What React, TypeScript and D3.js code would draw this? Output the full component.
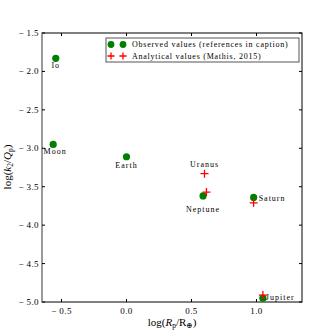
import React, { useEffect, useRef } from "react";
import * as d3 from "d3";

const bodies = ["Io", "Moon", "Earth", "Neptune", "Saturn", "Jupiter"];
const obsX = [-0.544, -0.564, 0.0, 0.589, 0.978, 1.049];
const obsY = [-1.83, -2.95, -3.11, -3.62, -3.64, -4.95];

const anaNames = ["Uranus", "Neptune", "Saturn", "Jupiter"];
const anaX = [0.6, 0.615, 0.978, 1.049];
const anaY = [-3.33, -3.57, -3.71, -4.91];

const xTicks = [-0.5, 0.0, 0.5, 1.0];
const yTicks = [-1.5, -2.0, -2.5, -3.0, -3.5, -4.0, -4.5, -5.0];

// label placement per name: dx, dy, anchor
const labelPos: Record<string, [number, number, string]> = {
  Io: [0, 10, "middle"],
  Moon: [2, 10, "middle"],
  Earth: [0, 11, "middle"],
  Uranus: [0, -7, "middle"],
  Neptune: [0, 16, "middle"],
  Saturn: [5, 4, "start"],
  Jupiter: [3, 2, "start"],
};

const App = () => {
  const ref = useRef<SVGSVGElement>(null);

  useEffect(() => {
    const svg = d3.select(ref.current);
    svg.selectAll("*").remove();

    const left = 42, right = 302, top = 33, bottom = 302;
    const x = d3.scaleLinear().domain([-0.65, 1.35]).range([left, right]);
    const y = d3.scaleLinear().domain([-5.0, -1.5]).range([bottom, top]);
    const font = "Liberation Serif, DejaVu Serif, serif";
    const fmt = (v: number) => (v < 0 ? "\u2212 " + Math.abs(v).toFixed(1) : v.toFixed(1));

    const g = svg.append("g");

    // frame
    g.append("rect").attr("x", left).attr("y", top)
      .attr("width", right - left).attr("height", bottom - top)
      .attr("fill", "none").attr("stroke", "#000").attr("stroke-width", 1);
    g.append("line").attr("x1", left).attr("x2", left).attr("y1", top).attr("y2", bottom)
      .attr("stroke", "#999").attr("stroke-width", 2);

    // ticks, drawn inward on all sides
    xTicks.forEach((t) => {
      g.append("line").attr("x1", x(t)).attr("x2", x(t)).attr("y1", bottom).attr("y2", bottom - 3).attr("stroke", "#000");
      g.append("line").attr("x1", x(t)).attr("x2", x(t)).attr("y1", top).attr("y2", top + 3).attr("stroke", "#000");
      g.append("text").attr("x", x(t)).attr("y", bottom + 12).attr("text-anchor", "middle")
        .attr("font-family", font).attr("font-size", 9).attr("letter-spacing", 0.4).text(fmt(t));
    });
    yTicks.forEach((t) => {
      g.append("line").attr("x1", left).attr("x2", left + 3).attr("y1", y(t)).attr("y2", y(t)).attr("stroke", "#000");
      g.append("line").attr("x1", right).attr("x2", right - 3).attr("y1", y(t)).attr("y2", y(t)).attr("stroke", "#000");
      g.append("text").attr("x", left - 3).attr("y", y(t) + 3).attr("text-anchor", "end")
        .attr("font-family", font).attr("font-size", 9).attr("letter-spacing", 0.4).text(fmt(t));
    });

    // axis labels
    const xl = g.append("text").attr("x", 172).attr("y", 326).attr("text-anchor", "middle")
      .attr("font-family", font).attr("font-size", 11);
    xl.append("tspan").text("log(");
    xl.append("tspan").attr("font-style", "italic").text("R");
    xl.append("tspan").attr("font-size", 7.5).attr("dy", 2).text("p");
    xl.append("tspan").attr("dy", -2).text("/R");
    xl.append("tspan").attr("font-size", 7.5).attr("dy", 2).text("\u2295");
    xl.append("tspan").attr("dy", -2).text(")");

    const yl = g.append("text").attr("transform", "translate(11,167) rotate(-90)").attr("text-anchor", "middle")
      .attr("font-family", font).attr("font-size", 11);
    yl.append("tspan").text("log(");
    yl.append("tspan").attr("font-style", "italic").text("k");
    yl.append("tspan").attr("font-size", 7.5).attr("dy", 2).text("2");
    yl.append("tspan").attr("dy", -2).text("/");
    yl.append("tspan").attr("font-style", "italic").text("Q");
    yl.append("tspan").attr("font-size", 7.5).attr("dy", 2).text("p");
    yl.append("tspan").attr("dy", -2).text(")");

    // observed points
    g.selectAll("circle.obs").data(bodies).enter().append("circle")
      .attr("cx", (_d, i) => x(obsX[i])).attr("cy", (_d, i) => y(obsY[i]))
      .attr("r", 3.6).attr("fill", "#007f00");

    // analytical crosses
    const cross = (cx: number, cy: number, s = 4) => `M${cx - s},${cy}H${cx + s}M${cx},${cy - s}V${cy + s}`;
    g.selectAll("path.ana").data(anaNames).enter().append("path")
      .attr("d", (_d, i) => cross(x(anaX[i]), y(anaY[i])))
      .attr("stroke", "#ff0000").attr("stroke-width", 1.3).attr("fill", "none");

    // labels
    const labelAt: [string, number, number][] = [];
    bodies.forEach((b, i) => labelAt.push([b, obsX[i], obsY[i]]));
    labelAt.push(["Uranus", anaX[0], anaY[0]]);
    labelAt.forEach(([name, vx, vy]) => {
      const [dx, dy, anchor] = labelPos[name];
      g.append("text").attr("x", x(vx) + dx).attr("y", y(vy) + dy).attr("text-anchor", anchor)
        .attr("font-family", font).attr("font-size", 8).attr("letter-spacing", 1).text(name);
    });

    // legend
    const lx = 106, ly = 38;
    g.append("rect").attr("x", lx).attr("y", ly).attr("width", 193).attr("height", 24)
      .attr("fill", "#fff").attr("stroke", "#555").attr("stroke-width", 1);
    [111, 123].forEach((mx) => {
      g.append("circle").attr("cx", mx).attr("cy", ly + 6.5).attr("r", 3.4).attr("fill", "#007f00");
      g.append("path").attr("d", cross(mx, ly + 18, 3.6)).attr("stroke", "#ff0000").attr("stroke-width", 1.3);
    });
    g.append("text").attr("x", 132).attr("y", ly + 9).attr("font-family", font).attr("font-size", 8)
      .attr("letter-spacing", 0.75).text("Observed values (references in caption)");
    g.append("text").attr("x", 132).attr("y", ly + 20.5).attr("font-family", font).attr("font-size", 8)
      .attr("letter-spacing", 0.75).text("Analytical values (Mathis, 2015)");
  }, []);

  return (
    <svg ref={ref} width={336} height={336} style={{ position: "absolute", left: 0, top: 0, background: "#fff" }} />
  );
};

export default App;
